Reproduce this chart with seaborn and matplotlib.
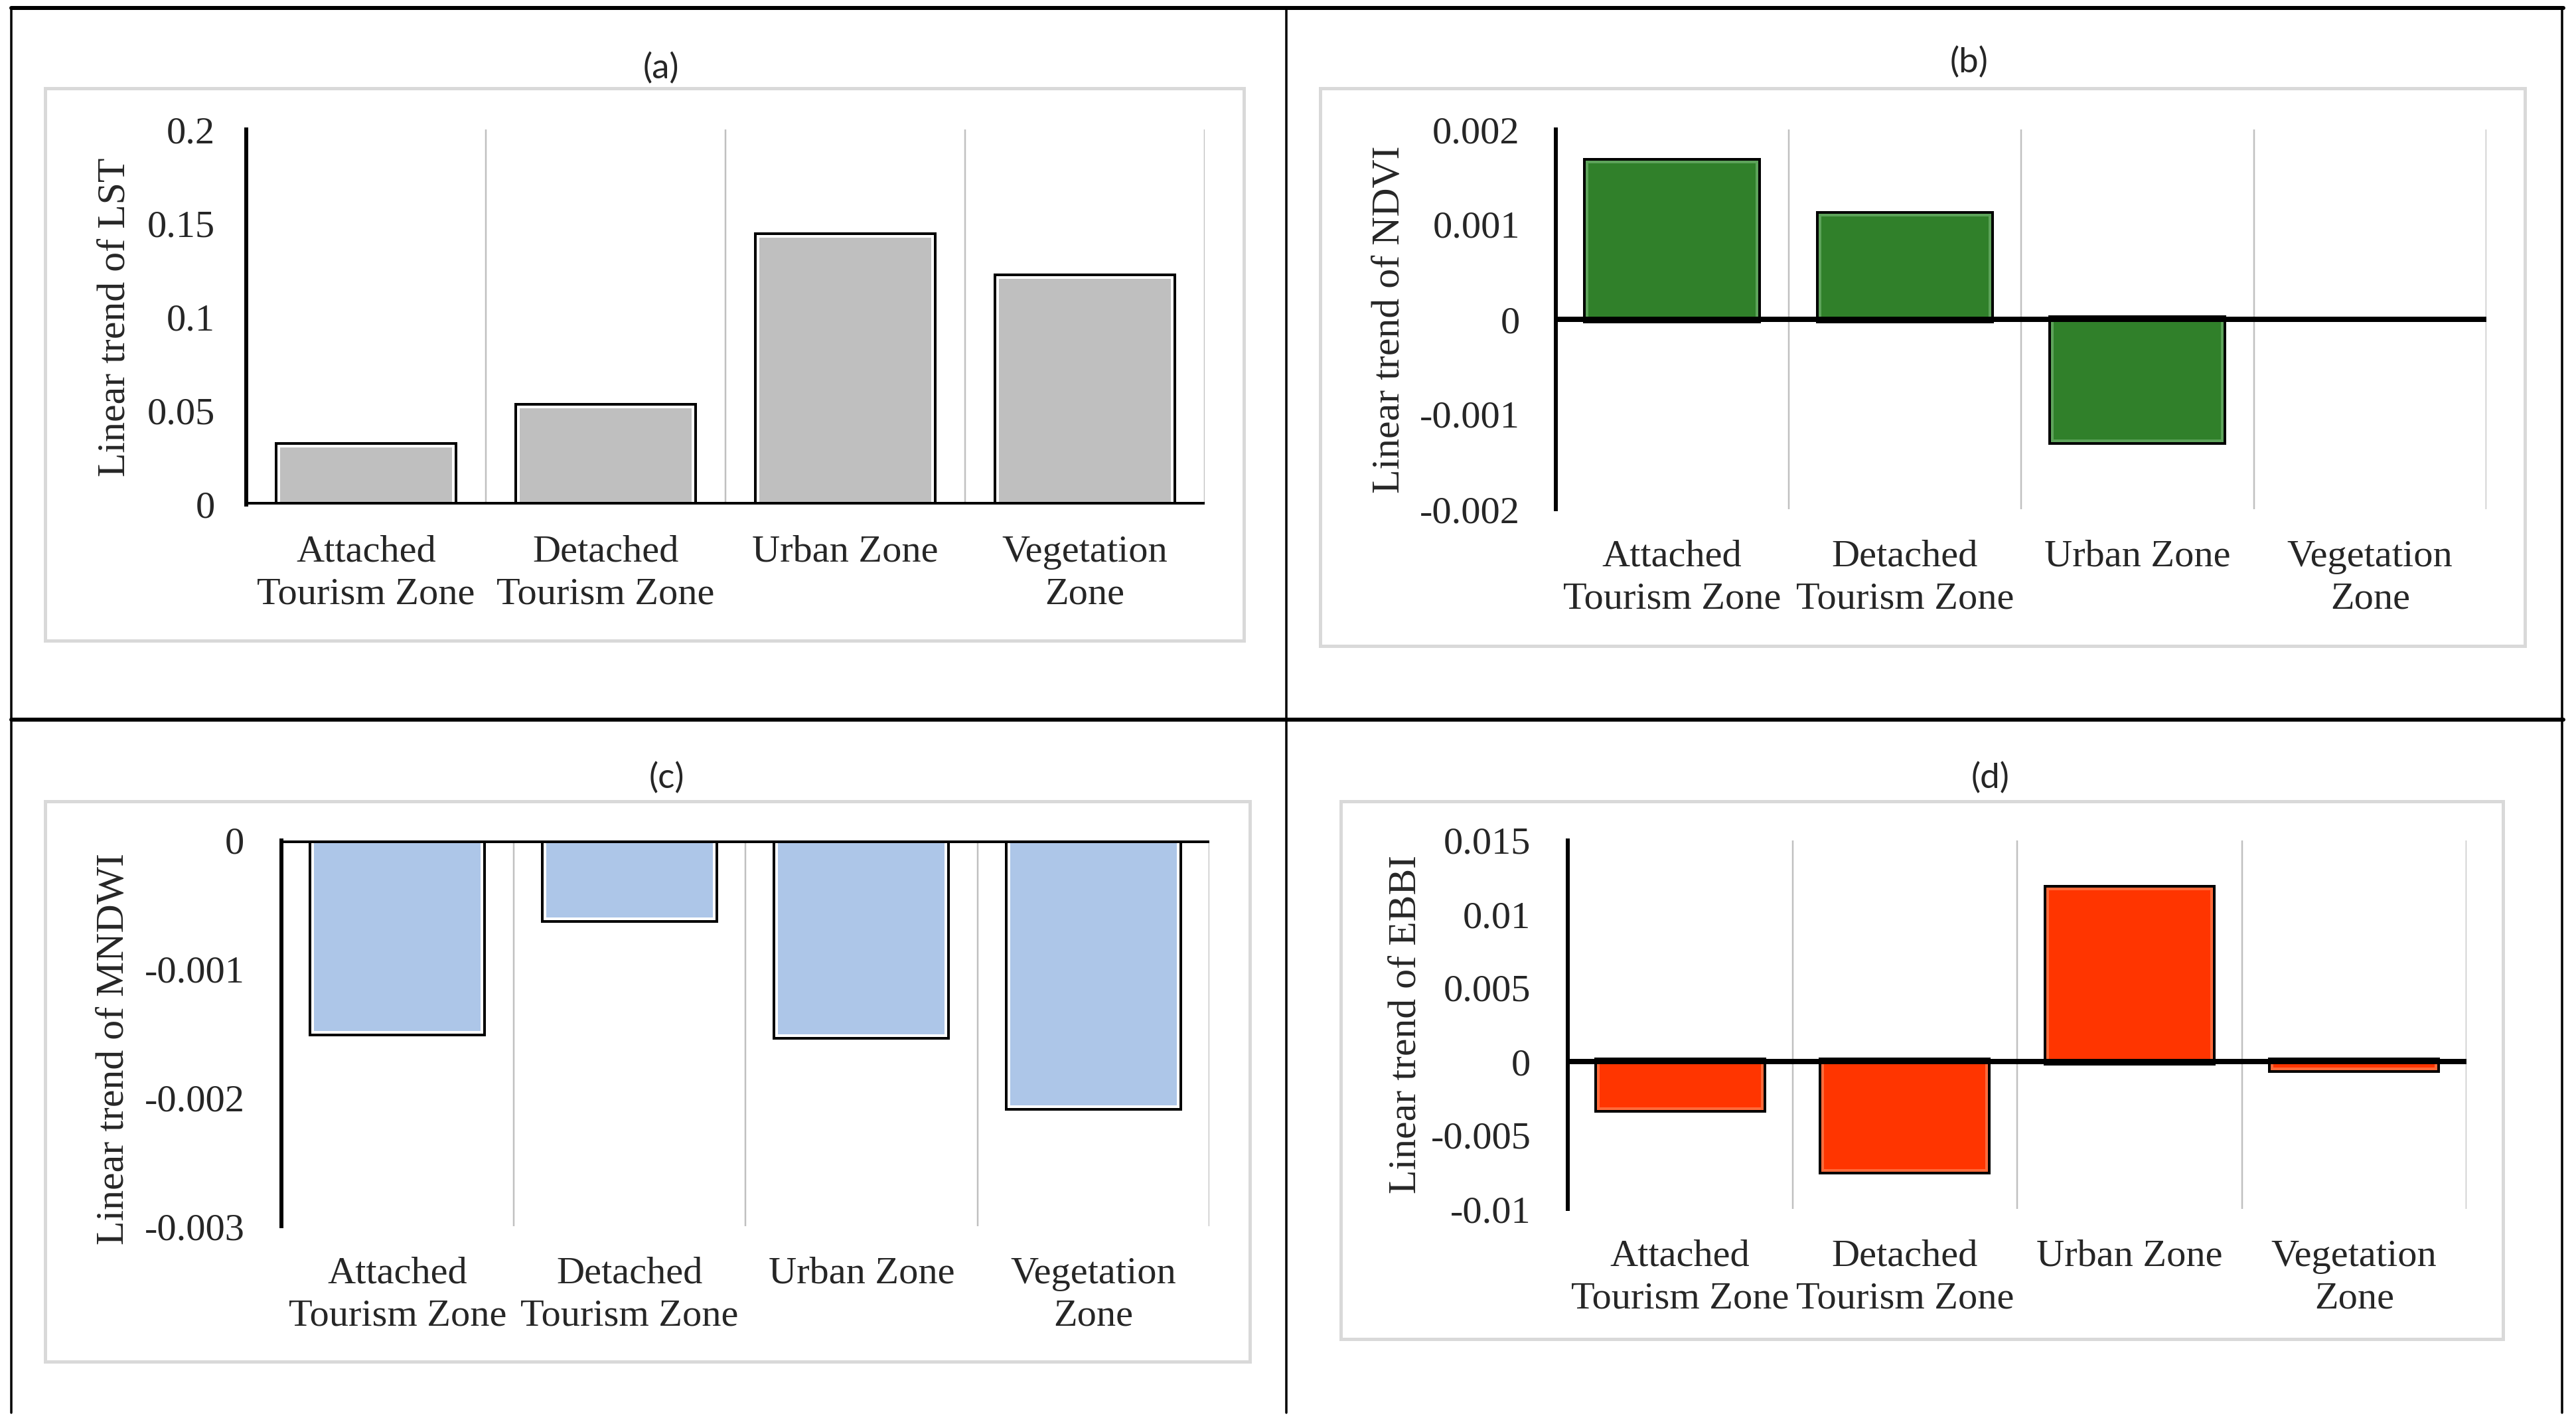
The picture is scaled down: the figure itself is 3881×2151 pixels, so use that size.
import matplotlib
matplotlib.use("Agg")
import matplotlib.pyplot as plt
import matplotlib.patheffects as pe
from matplotlib.lines import Line2D
from matplotlib.patches import Rectangle
import seaborn as sns

# data
zones = ["Attached\nTourism Zone", "Detached\nTourism Zone", "Urban Zone", "Vegetation\nZone"]
lst_trend = [0.031, 0.052, 0.143, 0.121]
ndvi_trend = [0.00166, 0.0011, -0.00128, 0.0]
mndwi_trend = [-0.00149, -0.00061, -0.00152, -0.00207]
ebbi_trend = [-0.0032, -0.0074, 0.0117, -0.0005]

lst_ticks = [0, 0.05, 0.1, 0.15, 0.2]
ndvi_ticks = [-0.002, -0.001, 0, 0.001, 0.002]
mndwi_ticks = [-0.003, -0.002, -0.001, 0]
ebbi_ticks = [-0.01, -0.005, 0, 0.005, 0.01, 0.015]

sns.set_style("white")
plt.rcParams['font.family'] = ['Liberation Serif', 'DejaVu Serif']
plt.rcParams['axes.unicode_minus'] = False

W, H = 3881, 2151
PX = 72 / 100  # points per pixel at dpi 100

def fx(x):
    return x / W

def fy(y):
    return 1 - y / H

def rect(l, r, t, b):
    return [l / W, 1 - b / H, (r - l) / W, (b - t) / H]

fig = plt.figure(figsize=(W / 100, H / 100), dpi=100)
fig.patch.set_facecolor('white')

# outer black frame and dividers
for xs, ys, lw in [
    ([17, 3862], [12, 12], 6),
    ([17, 3862], [1084, 1084], 6),
    ([17, 17], [12, 2128], 3.5),
    ([1938, 1938], [12, 2128], 3.5),
    ([3860, 3860], [12, 2128], 3.5),
]:
    fig.add_artist(Line2D([fx(x) for x in xs], [fy(y) for y in ys],
                          transform=fig.transFigure, color='black', lw=lw * PX))

panels = [
    dict(data=lst_trend, ticks=lst_ticks, color='#bfbfbf', inner='white',
         ylabel='Linear trend of LST', title='(a)', title_xy=(996, 103),
         ax_rect=rect(371, 1815, 195, 760), frame=(68, 1874, 133, 965),
         lab_x=-0.137, lab_y=0.5, ypad=34),
    dict(data=ndvi_trend, ticks=ndvi_ticks, color='#30802a', inner='#5da35a',
         ylabel='Linear trend of NDVI', title='(b)', title_xy=(2967, 94),
         ax_rect=rect(2344, 3746, 195, 767), frame=(1989, 3804, 133, 973),
         lab_x=-0.178, lab_y=0.5, ypad=39),
    dict(data=mndwi_trend, ticks=mndwi_ticks, color='#adc6e8', inner='white',
         ylabel='Linear trend of MNDWI', title='(c)', title_xy=(1004, 1172),
         ax_rect=rect(424, 1822, 1266, 1847), frame=(68, 1883, 1207, 2051),
         lab_x=-0.18, lab_y=0.46, ypad=40),
    dict(data=ebbi_trend, ticks=ebbi_ticks, color='#ff3500', inner='#ff6a3a',
         ylabel='Linear trend of EBBI', title='(d)', title_xy=(2999, 1172),
         ax_rect=rect(2362, 3716, 1266, 1821), frame=(2020, 3771, 1207, 2017),
         lab_x=-0.18, lab_y=0.5, ypad=40),
]

for p in panels:
    # light gray chart-area frame
    l, r, t, b = p['frame']
    fig.add_artist(Rectangle((fx(l), fy(b)), (r - l) / W, (b - t) / H,
                             transform=fig.transFigure, fill=False,
                             edgecolor='#d9d9d9', lw=5 * PX))
    fig.text(fx(p['title_xy'][0]), fy(p['title_xy'][1]), p['title'],
             ha='center', va='center', fontsize=38, family=['Lato', 'DejaVu Sans'])

    ax = fig.add_axes(p['ax_rect'])
    sns.barplot(x=zones, y=p['data'], ax=ax, color=p['color'], saturation=1,
                width=0.73, edgecolor=p['inner'], linewidth=4 * PX, zorder=2)
    for bar in ax.patches:
        if bar.get_height() == 0:
            bar.set_visible(False)
        bar.set_path_effects([pe.Stroke(linewidth=12 * PX, foreground='black'), pe.Normal()])

    ax.set_xlim(-0.5, 3.5)
    ax.set_ylim(p['ticks'][0], p['ticks'][-1])
    ax.set_yticks(p['ticks'])
    ax.set_yticklabels([f"{t:g}" for t in p['ticks']])
    ax.set_xticks(range(len(zones)))
    ax.set_xticklabels(zones, linespacing=1.3)
    ax.set_xticks([0.5, 1.5, 2.5, 3.5], minor=True)
    ax.grid(which='minor', axis='x', color='#c0c0c0', lw=2.5 * PX, zorder=0)
    ax.grid(which='major', visible=False)
    ax.set_axisbelow(True)
    ax.axhline(0, color='black', lw=8 * PX, zorder=3)

    for side in ['top', 'right', 'bottom']:
        ax.spines[side].set_visible(False)
    ax.spines['left'].set_color('black')
    ax.spines['left'].set_linewidth(6 * PX)
    ax.spines['left'].set_zorder(4)

    ax.tick_params(axis='y', which='both', length=0, pad=p['ypad'], labelsize=42)
    ax.tick_params(axis='x', which='both', length=0, pad=33, labelsize=42)
    ax.set_xlabel('')
    ax.set_ylabel(p['ylabel'], fontsize=43, va='center')
    ax.yaxis.set_label_coords(p['lab_x'], p['lab_y'])
    ax.patch.set_alpha(0)

fig.savefig('out.png', dpi=100, facecolor='white')
